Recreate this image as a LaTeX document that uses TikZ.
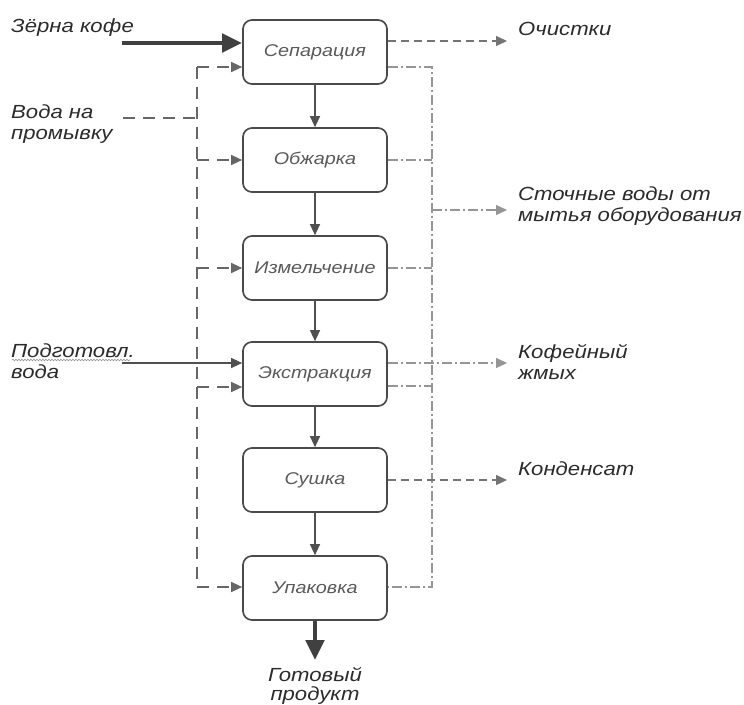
\documentclass[tikz,border=0pt]{standalone}
\usepackage{fontspec}
\setmainfont{Liberation Sans}[FakeStretch=1.165]
\usetikzlibrary{arrows.meta,decorations.pathmorphing}

\definecolor{boxline}{HTML}{4A4A4A}
\definecolor{boxtext}{HTML}{5A5A5A}
\definecolor{lbltext}{HTML}{2B2B2B}
\definecolor{flowgray}{HTML}{505050}
\definecolor{heavygray}{HTML}{404040}
\definecolor{washgray}{HTML}{666666}
\definecolor{draingray}{HTML}{959595}
\definecolor{wastegray}{HTML}{747474}

% two stacked lines, first baseline is the box baseline
\newcommand{\lblpair}[2]{\vtop{\hbox{#1}\hbox{#2}}}
\newcommand{\lblpairc}[2]{\vtop{\halign{\hfil##\hfil\cr #1\cr #2\cr}}}

\begin{document}
\begin{tikzpicture}[x=1pt,y=-1pt,
  stage/.style={draw=boxline, line width=1.7pt, rounded corners=9pt,
    minimum width=144pt, minimum height=64pt, fill=white, text=boxtext,
    font=\fontsize{17}{20}\selectfont\itshape},
  sidetext/.style={inner sep=0pt, text=lbltext, anchor=base west,
    font=\fontsize{19}{21}\selectfont\itshape},
  tip/.style={-{Triangle[length=11pt,width=10pt]}},
  flow/.style={draw=flowgray, line width=1.3pt, tip},
  feed/.style={draw=heavygray, line width=4.8pt, -{Triangle[length=20pt,width=18pt]}},
  washline/.style={draw=washgray, line width=1.5pt, dash pattern=on 12pt off 8pt},
  washarrow/.style={washline, tip},
  drain/.style={draw=draingray, line width=1.1pt, dash pattern=on 10pt off 3pt on 2pt off 3pt},
  drainarrow/.style={drain, tip},
  waste/.style={draw=wastegray, line width=1.4pt, dash pattern=on 8pt off 5pt, tip}
]
\useasboundingbox (0,0) rectangle (744,704);

% process stages
\node[stage] (sep)  at (315,52)  {Сепарация};
\node[stage] (obzh) at (315,160) {Обжарка};
\node[stage] (izm)  at (315,268) {Измельчение};
\node[stage] (ext)  at (315,374) {Экстракция};
\node[stage] (sush) at (315,480) {Сушка};
\node[stage] (upak) at (315,588) {Упаковка};

% main product flow
\draw[flow] (sep) -- (obzh);
\draw[flow] (obzh) -- (izm);
\draw[flow] (izm) -- (ext);
\draw[flow] (ext) -- (sush);
\draw[flow] (sush) -- (upak);

% raw beans in
\coordinate (beanIn) at (122,43);
\draw[feed] (beanIn) -- (beanIn -| sep.west);
\node[sidetext] (beanLbl) at (11,32) {Зёрна кофе};

% wash water distribution on the left
\coordinate (busTop) at (197,67);
\coordinate (busBot) at (197,587);
\coordinate (extLow) at (197,387);
\coordinate (washIn) at (123,118);
\draw[washline] (busTop) -- (busBot);
\draw[washline] (washIn) -- (washIn -| busTop);
\draw[washarrow] (busTop) -- (busTop -| sep.west);
\draw[washarrow] (busTop |- obzh) -- (obzh.west);
\draw[washarrow] (busTop |- izm) -- (izm.west);
\draw[washarrow] (extLow) -- (extLow -| ext.west);
\draw[washarrow] (busBot) -- (busBot -| upak.west);
\node[sidetext] (washLbl) at (11,118) {\lblpair{Вода на}{промывку}};

% prepared water to extraction
\coordinate (waterIn) at (122,363);
\draw[flow] (waterIn) -- (waterIn -| ext.west);
\node[sidetext] (waterLbl) at (11,357) {\lblpair{Подготовл.}{вода}};
\draw[draingray, line width=0.6pt, decorate,
  decoration={snake, amplitude=0.8pt, segment length=3pt}]
  (12,360) -- (130,360);

% cleaning waste
\coordinate (cleanOut) at (507,41);
\draw[waste] (cleanOut -| sep.east) -- (cleanOut);
\node[sidetext] (cleanLbl) at (518,35) {Очистки};

% equipment wash drain collector on the right
\coordinate (rbusTop) at (432,67);
\coordinate (rbusBot) at (432,587);
\coordinate (extDrain) at (432,386);
\draw[drain] (sep.east |- rbusTop) -- (rbusTop) -- (rbusBot) -- (upak.east |- rbusBot);
\draw[drain] (obzh.east) -- (obzh -| rbusTop);
\draw[drain] (izm.east) -- (izm -| rbusTop);
\draw[drain] (extDrain -| ext.east) -- (extDrain);
\coordinate (washOut) at (507,210);
\draw[drainarrow] (washOut -| rbusTop) -- (washOut);
\node[sidetext] (washOutLbl) at (518,200) {\lblpair{Сточные воды от}{мытья оборудования}};

% spent grounds
\coordinate (cakeOut) at (507,363);
\draw[drainarrow] (cakeOut -| ext.east) -- (cakeOut);
\node[sidetext] (cakeLbl) at (518,358) {\lblpair{Кофейный}{жмых}};

% condensate
\coordinate (condOut) at (507,480);
\draw[waste] (sush.east) -- (condOut);
\node[sidetext] (condLbl) at (518,475) {Конденсат};

% finished product
\coordinate (prodOut) at (315,660);
\draw[feed] (upak.south) -- (prodOut);
\node[sidetext, anchor=base, font=\fontsize{19}{19.5}\selectfont\itshape]
  (prodLbl) at (315,681) {\lblpairc{Готовый}{продукт}};
\end{tikzpicture}
\end{document}
